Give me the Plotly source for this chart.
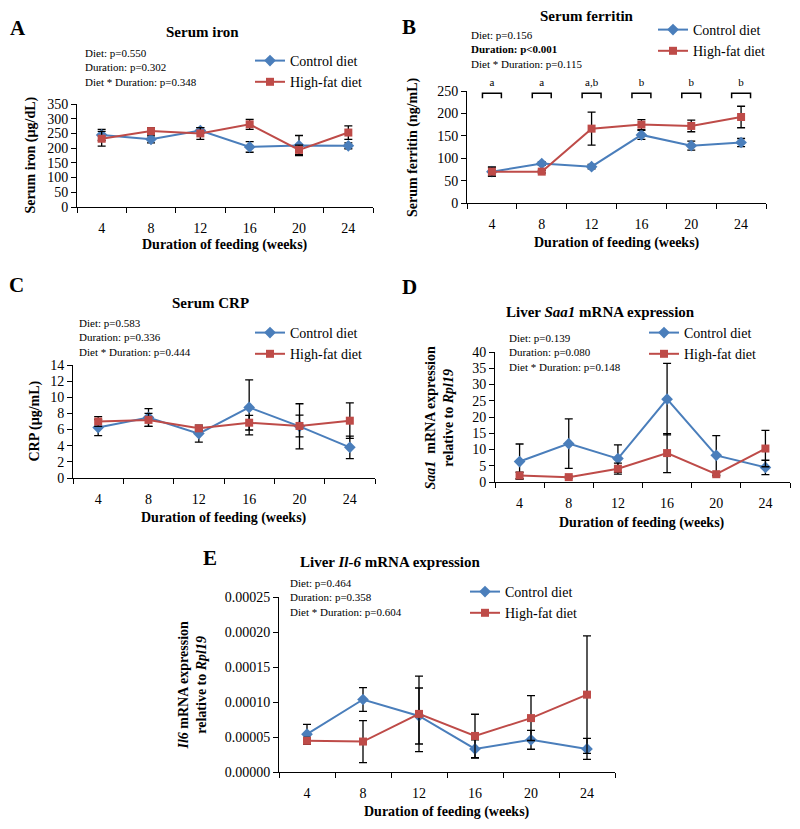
import plotly.graph_objects as go

W, H = 800, 829
FONT = "Liberation Serif, Times New Roman, serif"
BLUE = "#4A7EBB"
RED = "#BE4B48"

weeks = ["4", "8", "12", "16", "20", "24"]
series_names = ["Control diet", "High-fat diet"]

# A: serum iron (ug/dL)
iron_ctrl = [245, 230, 260, 204, 209, 208]
iron_ctrl_err = [19, 12, 10, 18, 34, 10]
iron_hfd = [232, 258, 250, 281, 194, 253]
iron_hfd_err = [25, 12, 20, 17, 16, 23]

# B: serum ferritin (ng/mL)
ferr_ctrl = [70, 88, 81, 152, 128, 135]
ferr_ctrl_err = [10, 4, 5, 10, 10, 9]
ferr_hfd = [70, 70, 166, 175, 172, 192]
ferr_hfd_err = [10, 3, 37, 11, 13, 24]
ferr_letters = ["a", "a", "a,b", "b", "b", "b"]
bracket_top = 245
bracket_leg = 234
letter_y = 268

# C: serum CRP (ug/mL)
crp_ctrl = [6.25, 7.5, 5.5, 8.75, 6.4, 3.8]
crp_ctrl_err = [1.0, 1.1, 1.05, 3.4, 2.8, 1.4]
crp_hfd = [7.0, 7.2, 6.15, 6.85, 6.45, 7.1]
crp_hfd_err = [0.6, 0.8, 0.2, 0.9, 1.35, 2.2]

# D: liver Saa1 mRNA
saa_ctrl = [6.3, 11.8, 7.2, 25.5, 8.2, 4.5]
saa_ctrl_err = [5.4, 7.6, 4.2, 11.0, 6.1, 2.2]
saa_hfd = [2.0, 1.5, 4.1, 8.9, 2.4, 10.3]
saa_hfd_err = [1.0, 0.3, 1.7, 6.0, 0.5, 5.6]

# E: liver Il-6 mRNA
il6_ctrl = [5.4e-5, 1.036e-4, 8.0e-5, 3.3e-5, 4.6e-5, 3.3e-5]
il6_ctrl_err = [1.4e-5, 1.7e-5, 4.0e-5, 1.3e-5, 1.35e-5, 1.5e-5]
il6_hfd = [4.45e-5, 4.35e-5, 8.3e-5, 5.15e-5, 7.7e-5, 1.105e-4]
il6_hfd_err = [0.5e-5, 3.0e-5, 5.4e-5, 3.1e-5, 3.2e-5, 8.4e-5]


def X(px):
    return px / W


def Y(py):
    return 1 - py / H


# panel plot areas in pixels: (left, right, top, bottom)
boxes = {
    1: (77, 373, 104, 207),
    2: (467, 766, 91, 203),
    3: (73, 375, 365, 478),
    4: (495, 790, 352, 482),
    5: (279, 615, 597, 772),
}
yranges = {1: [0, 350], 2: [0, 250], 3: [0, 14], 4: [0, 40], 5: [0, 0.00025]}
ydticks = {1: 50, 2: 50, 3: 2, 4: 5, 5: 0.00005}

panels = [
    (1, iron_ctrl, iron_ctrl_err, iron_hfd, iron_hfd_err),
    (2, ferr_ctrl, ferr_ctrl_err, ferr_hfd, ferr_hfd_err),
    (3, crp_ctrl, crp_ctrl_err, crp_hfd, crp_hfd_err),
    (4, saa_ctrl, saa_ctrl_err, saa_hfd, saa_hfd_err),
    (5, il6_ctrl, il6_ctrl_err, il6_hfd, il6_hfd_err),
]

fig = go.Figure()
layout = dict(
    width=W, height=H, margin=dict(l=0, r=0, t=0, b=0, pad=0, autoexpand=False),
    paper_bgcolor="white", plot_bgcolor="rgba(0,0,0,0)",
    font=dict(family=FONT, size=14, color="black"),
    showlegend=True, hovermode=False,
)

legend_pos = {1: (292, 61), 2: (695, 30), 3: (292, 333), 4: (686, 333), 5: (507, 592)}

for i, c, ce, h, he in panels:
    sfx = "" if i == 1 else str(i)
    lg = "legend" if i == 1 else f"legend{i}"
    for name, vals, errs, col, sym in [
        (series_names[0], c, ce, BLUE, "diamond"),
        (series_names[1], h, he, RED, "square"),
    ]:
        fig.add_trace(go.Scatter(
            x=weeks, y=vals, name=name,
            mode="lines+markers",
            xaxis="x" + sfx, yaxis="y" + sfx, legend=lg,
            line=dict(color=col, width=2),
            marker=dict(symbol=sym, size=8 if sym == "square" else 9, color=col),
            error_y=dict(type="data", array=errs, visible=True, color="black",
                         thickness=1.3, width=4),
        ))
    l, r, t, b = boxes[i]
    layout["xaxis" + sfx] = dict(
        domain=[X(l), X(r)], anchor="y" + sfx, type="category",
        categoryorder="array", categoryarray=weeks,
        range=[-0.5, len(weeks) - 0.5],
        showline=True, linecolor="black", linewidth=1,
        ticks="outside", tickson="boundaries", ticklen=5, tickcolor="black",
        ticklabelstandoff=8,
        showgrid=False, zeroline=False, tickfont=dict(size=14, family=FONT),
    )
    ax = dict(
        domain=[Y(b), Y(t)], anchor="x" + sfx, range=yranges[i], dtick=ydticks[i],
        tick0=0, showline=True, linecolor="black", linewidth=1,
        ticks="outside", ticklen=5, tickcolor="black",
        showgrid=False, zeroline=False, tickfont=dict(size=14, family=FONT),
    )
    if i == 5:
        ax["tickformat"] = ".5f"
    layout["yaxis" + sfx] = ax
    lx, ly = legend_pos[i]
    layout[lg] = dict(
        x=X(lx - 42), y=Y(ly - 16), xanchor="left", yanchor="top",
        bgcolor="rgba(0,0,0,0)",
        font=dict(size=14, family=FONT, color="black"),
        tracegroupgap=0,
    )

# overlay axes for the significance brackets of panel B
l, r, t, b = boxes[2]
ext_top = 72
ov_top = yranges[2][1] * (b - ext_top) / (b - t)
layout["xaxis6"] = dict(domain=[X(l), X(r)], anchor="y6", range=[-0.5, len(weeks) - 0.5],
                        visible=False)
layout["yaxis6"] = dict(domain=[Y(b), Y(ext_top)], anchor="x6", range=[0, ov_top], visible=False)
bx, by = [], []
for k in range(len(weeks)):
    bx += [k - 0.19, k - 0.19, k + 0.19, k + 0.19, None]
    by += [bracket_leg, bracket_top, bracket_top, bracket_leg, None]
fig.add_trace(go.Scatter(x=bx, y=by, mode="lines", xaxis="x6", yaxis="y6",
                         line=dict(color="black", width=1.5), showlegend=False,
                         hoverinfo="skip"))
fig.add_trace(go.Scatter(x=list(range(len(weeks))), y=[letter_y] * len(weeks),
                         text=ferr_letters, mode="text", xaxis="x6", yaxis="y6",
                         textfont=dict(size=11, family=FONT, color="black"),
                         showlegend=False, hoverinfo="skip"))

ann = []


def text(x, y, s, size=14, xanchor="center", angle=0):
    ann.append(dict(x=X(x), y=Y(y), xref="paper", yref="paper", text=s,
                    showarrow=False, xanchor=xanchor, yanchor="middle",
                    textangle=angle, font=dict(size=size, family=FONT, color="black")))


# panel letters
for s, (x, y) in zip("ABCDE", [(18, 28), (409, 27), (16, 285), (410, 287), (210, 558)]):
    text(x, y, f"<b>{s}</b>", size=21)

# titles
text(203, 32, "<b>Serum iron</b>", 15)
text(587, 16, "<b>Serum ferritin</b>", 15)
text(210, 303, "<b>Serum CRP</b>", 15)
text(600, 312, "<b>Liver <i>Saa1</i> mRNA expression</b>", 15)
text(390, 562, "<b>Liver <i>Il-6</i> mRNA expression</b>", 15)

# p-value notes
notes = {
    (83, 53): ["Diet: p=0.550", "Duration: p=0.302", "Diet * Duration: p=0.348"],
    (469, 35): ["Diet: p=0.156", "<b>Duration: p<0.001</b>", "Diet * Duration: p=0.115"],
    (77, 323): ["Diet: p=0.583", "Duration: p=0.336", "Diet * Duration: p=0.444"],
    (507, 338): ["Diet: p=0.139", "Duration: p=0.080", "Diet * Duration: p=0.148"],
    (288, 583): ["Diet: p=0.464", "Duration: p=0.358", "Diet * Duration: p=0.604"],
}
for (x, y), lines in notes.items():
    for j, s in enumerate(lines):
        text(x, y + 14.3 * j, s, 11, xanchor="left")

# x-axis titles
xt = "<b>Duration of feeding (weeks)</b>"
text(225, 245, xt)
text(617, 243, xt)
text(224, 518, xt)
text(642, 523, xt)
text(447, 812, xt)

# y-axis titles
text(30, 155.5, "<b>Serum iron (µg/dL)</b>", angle=-90)
text(413, 147, "<b>Serum ferritin (ng/mL)</b>", angle=-90)
text(35, 421.5, "<b>CRP (µg/mL)</b>", angle=-90)
text(438.5, 418, "<b><i>Saa1</i>  mRNA expression<br>relative to <i>Rpl19</i></b>", angle=-90)
text(191.5, 685, "<b><i>Il6</i> mRNA expression<br>relative to <i>Rpl19</i></b>", angle=-90)

layout["annotations"] = ann
fig.update_layout(**layout)
fig.write_html("out.html", config={"displayModeBar": False, "staticPlot": True},
               post_script="document.body.style.margin='0';document.body.style.overflow='hidden';")
